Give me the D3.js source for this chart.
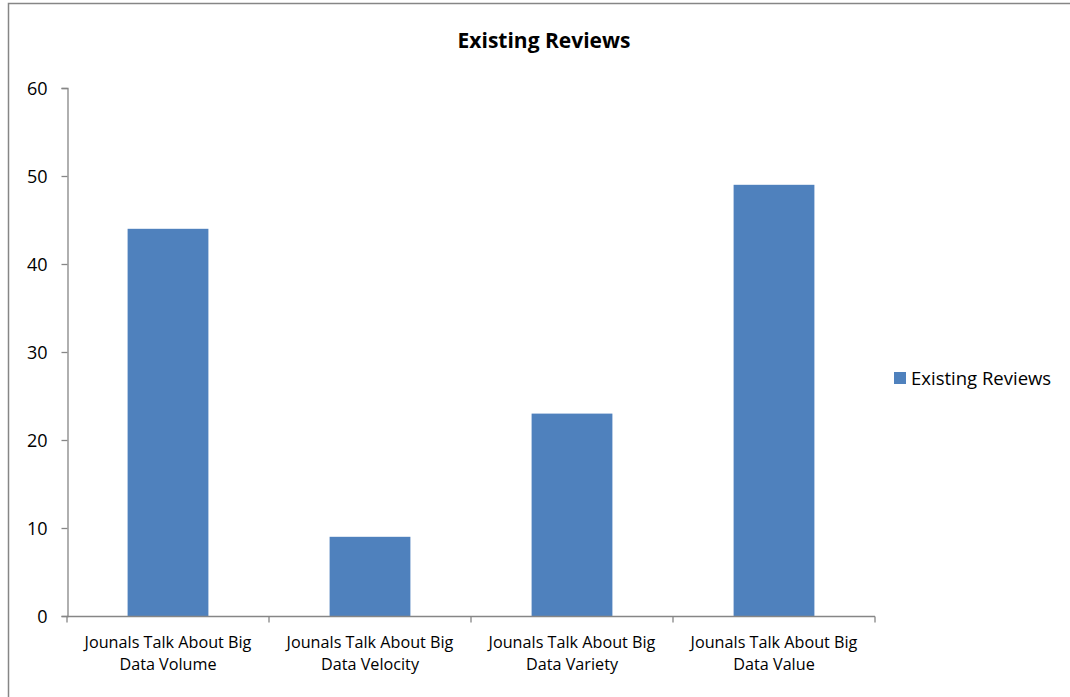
<!DOCTYPE html>
<html>
<head>
<meta charset="utf-8">
<script src="https://cdn.jsdelivr.net/npm/d3@7"></script>
<style>
  body { margin: 0; background: #fff; }
  svg { display: block; font-family: "Open Sans", sans-serif; }
</style>
</head>
<body>
<div class="chart"></div>
<script>
var categories = [
  ['Jounals Talk About Big', 'Data Volume'],
  ['Jounals Talk About Big', 'Data Velocity'],
  ['Jounals Talk About Big', 'Data Variety'],
  ['Jounals Talk About Big', 'Data Value']
];
var reviews = [44, 9, 23, 49];
var yTicks = [0, 10, 20, 30, 40, 50, 60];
var seriesName = 'Existing Reviews';

var width = 1070, height = 697,
    plot = { left: 67, right: 875, top: 88, bottom: 616 },
    barColor = '#4f81bd',
    lineColor = '#868686';

var svg = d3.select('.chart').append('svg').attr('width', width).attr('height', height);

// outer chart frame
svg.append('rect').attr('x', 8.5).attr('y', 3.5).attr('width', 1080).attr('height', 720)
  .attr('fill', 'none').attr('stroke', lineColor).attr('stroke-width', 1.5);

var x = d3.scaleBand().domain(d3.range(categories.length))
  .range([plot.left, plot.right]).paddingInner(0).paddingOuter(0);
var y = d3.scaleLinear().domain([0, 60]).range([plot.bottom, plot.top]);

// bars
svg.append('g').selectAll('rect').data(reviews).enter().append('rect')
  .attr('x', function (d, i) { return x(i) + x.bandwidth() * 0.3; })
  .attr('width', x.bandwidth() * 0.4)
  .attr('y', function (d) { return y(d); })
  .attr('height', function (d) { return y(0) - y(d); })
  .attr('fill', barColor);

// y axis
var yAxis = svg.append('g').attr('transform', 'translate(' + (plot.left + 0.5) + ',0)')
  .call(d3.axisLeft(y).tickValues(yTicks).tickSize(6).tickSizeOuter(6));
yAxis.selectAll('path, line').attr('stroke', lineColor).attr('stroke-width', 1.3);
yAxis.selectAll('text').attr('font-size', 18).attr('font-family', '"Open Sans", sans-serif')
  .attr('fill', '#000').attr('x', -20).attr('dy', '0.36em');

// x axis
var xAxis = svg.append('g').attr('transform', 'translate(0,' + (plot.bottom + 0.5) + ')');
xAxis.append('line').attr('x1', plot.left).attr('x2', plot.right)
  .attr('stroke', lineColor).attr('stroke-width', 1.3);
xAxis.selectAll('line.tick').data(d3.range(categories.length + 1)).enter().append('line')
  .attr('class', 'tick')
  .attr('x1', function (d) { return d < categories.length ? x(d) : plot.right; })
  .attr('x2', function (d) { return d < categories.length ? x(d) : plot.right; })
  .attr('y1', 0).attr('y2', 6)
  .attr('stroke', lineColor).attr('stroke-width', 1.3);

var labels = xAxis.selectAll('text').data(categories).enter().append('text')
  .attr('text-anchor', 'middle')
  .attr('font-size', 16.2)
  .attr('fill', '#000');
labels.each(function (d, i) {
  var t = d3.select(this);
  d.forEach(function (line, j) {
    t.append('tspan').attr('x', x(i) + x.bandwidth() / 2).attr('y', 31 + j * 22).text(line);
  });
});

// title
svg.append('text').attr('x', 544).attr('y', 48).attr('text-anchor', 'middle')
  .attr('font-size', 21).attr('font-weight', 'bold').attr('fill', '#000')
  .text(seriesName);

// legend
var legend = svg.append('g').attr('transform', 'translate(894,372)');
legend.append('rect').attr('width', 12).attr('height', 12).attr('fill', barColor);
legend.append('text').attr('x', 17).attr('y', 12.5).attr('font-size', 18.5).attr('fill', '#000')
  .text(seriesName);
</script>
</body>
</html>
